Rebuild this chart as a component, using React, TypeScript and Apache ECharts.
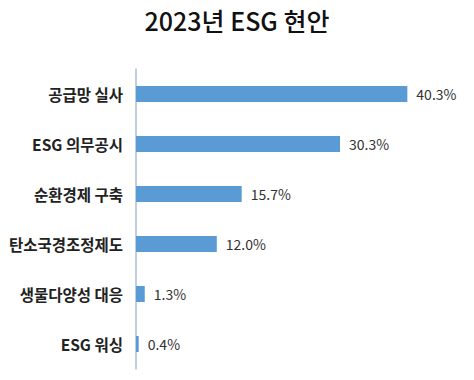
import React, { useEffect, useRef } from "react";
import * as echarts from "echarts";

const titleText = "2023년 ESG 현안";
const categories = ["공급망 실사", "ESG 의무공시", "순환경제 구축", "탄소국경조정제도", "생물다양성 대응", "ESG 워싱"];
const values = [40.3, 30.3, 15.7, 12.0, 1.3, 0.4];

export default function App() {
  const ref = useRef<HTMLDivElement>(null);
  useEffect(() => {
    if (!ref.current) return;
    const chart = echarts.init(ref.current, null, { renderer: "svg" });
    chart.setOption({
      animation: false,
      backgroundColor: "#ffffff",
      title: {
        text: titleText,
        left: "center",
        top: 2,
        textStyle: {
          fontFamily: "Noto Sans CJK KR",
          fontSize: 25,
          fontWeight: 500,
          color: "#111111",
        },
      },
      grid: { left: 136, right: 35, top: 69, bottom: 11, containLabel: false },
      xAxis: {
        type: "value",
        min: 0,
        max: 45,
        show: false,
      },
      yAxis: {
        type: "category",
        data: categories,
        inverse: true,
        axisLine: { show: true, lineStyle: { color: "#a9c0de", width: 1.5 } },
        axisTick: { show: false },
        axisLabel: {
          margin: 13,
          fontFamily: "Noto Sans CJK KR",
          fontSize: 15.5,
          fontWeight: "bold",
          color: "#222222",
        },
      },
      series: [
        {
          type: "bar",
          data: values,
          barWidth: 16,
          itemStyle: { color: "#5b9bd5" },
          label: {
            show: true,
            position: "right",
            distance: 9,
            formatter: (p: any) => p.value.toFixed(1) + "%",
            fontFamily: "Noto Sans CJK KR",
            fontSize: 14,
            color: "#333333",
          },
        },
      ],
    });
    return () => chart.dispose();
  }, []);
  return <div ref={ref} style={{ width: 474, height: 380, position: "absolute", left: 0, top: 0 }} />;
}
